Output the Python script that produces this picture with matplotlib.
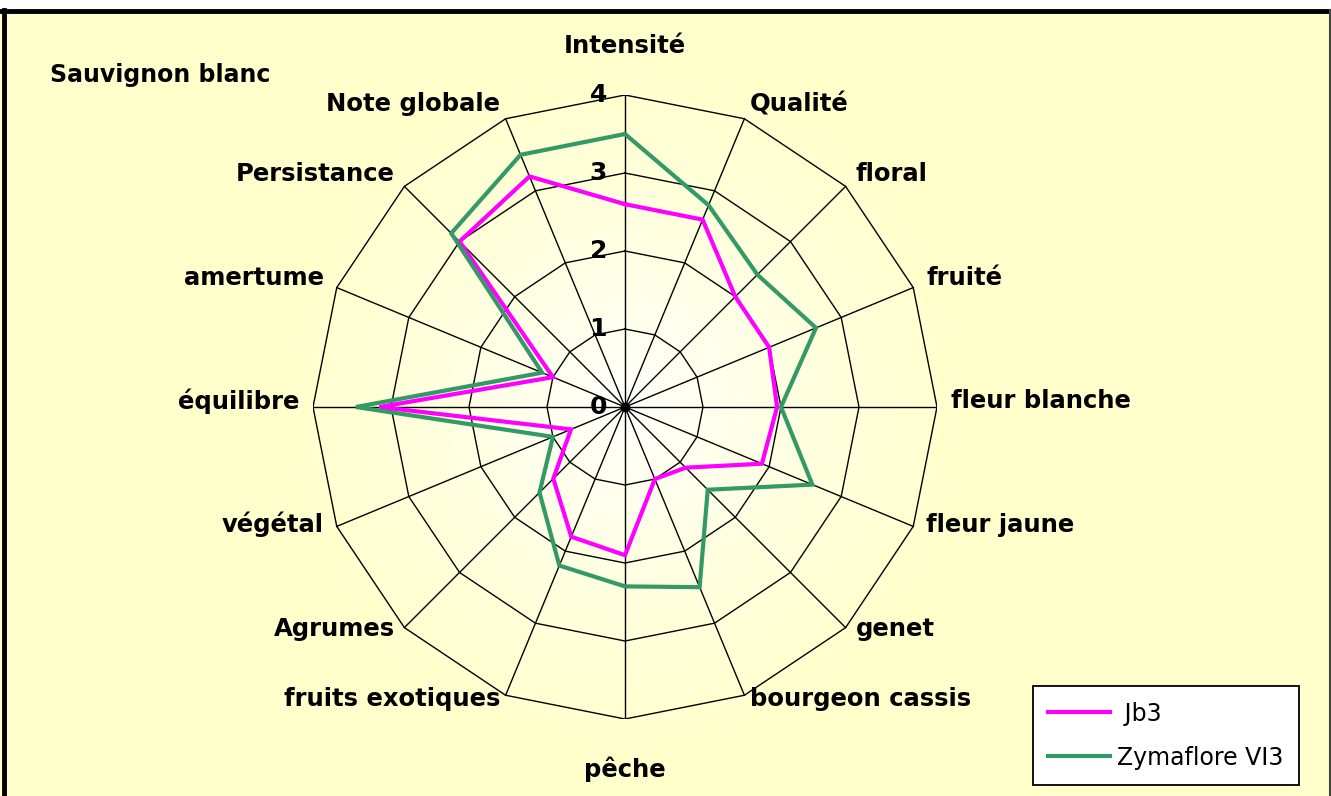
import numpy as np
import matplotlib
matplotlib.use("Agg")
import matplotlib.pyplot as plt
from matplotlib.patches import Rectangle

# -- data --
categories = ["Intensité", "Qualité", "floral", "fruité", "fleur blanche",
              "fleur jaune", "genet", "bourgeon cassis", "pêche",
              "fruits exotiques", "Agrumes", "végétal", "équilibre",
              "amertume", "Persistance", "Note globale"]
jb3 = [2.6, 2.6, 2.0, 2.0, 1.95, 1.9, 1.1, 1.0, 1.9, 1.8, 1.3, 0.75,
       3.15, 1.0, 3.0, 3.2]
zymaflore = [3.5, 2.8, 2.4, 2.65, 2.0, 2.6, 1.5, 2.5, 2.3, 2.2, 1.55, 1.0,
             3.45, 1.15, 3.15, 3.5]
ring_values = [1, 2, 3, 4]
tick_labels = ["0", "1", "2", "3", "4"]
title = "Sauvignon blanc"
series_names = [" Jb3", "Zymaflore VI3"]

W, H = 1331, 796
fig = plt.figure(figsize=(W / 100, H / 100), dpi=100)
fig.patch.set_facecolor("white")

# background with soft radial gradient (white centre -> pale yellow)
bg = fig.add_axes([0, 0, 1, 1])
bg.set_xlim(0, W)
bg.set_ylim(H, 0)
bg.axis("off")
yy, xx = np.mgrid[0:H, 0:W]
d = np.hypot(xx - 625, yy - 407)
t = np.clip(d / 340.0, 0, 1) ** 0.8
white = np.array([1.0, 1.0, 1.0])
yellow = np.array([1.0, 1.0, 0.80])
img = white[None, None, :] * (1 - t[..., None]) + yellow[None, None, :] * t[..., None]
bg.imshow(img, extent=(0, W, H, 0), zorder=0)
bg.add_patch(Rectangle((0, 0), W, 9, color="white", zorder=1))
bg.plot([0, W], [10.5, 10.5], color="black", lw=3.5, zorder=2)
bg.plot([4, 4], [10, H], color="black", lw=3.5, zorder=2)
bg.plot([W - 1.5, W - 1.5], [10, H], color="#444444", lw=1.5, zorder=2)

# radar axes (cartesian so the rings stay straight-edged)
R = 312.0
ax = fig.add_axes([(625 - R) / W, (H - 407 - R) / H, 2 * R / W, 2 * R / H])
ax.set_xlim(-4, 4)
ax.set_ylim(-4, 4)
ax.axis("off")
ax.patch.set_alpha(0)

n = len(categories)
theta = np.arange(n) * 2 * np.pi / n
th_c = np.append(theta, theta[0])

for r in ring_values:
    ax.plot(r * np.sin(th_c), r * np.cos(th_c), color="black", lw=1.0, zorder=2)
for th in theta:
    ax.plot([0, 4 * np.sin(th)], [0, 4 * np.cos(th)], color="black", lw=1.0, zorder=2)
ax.plot([0], [0], "o", color="black", ms=6, zorder=3)

def closed(v):
    v = np.asarray(v, dtype=float)
    return np.append(v, v[0])

l1, = ax.plot(closed(jb3) * np.sin(th_c), closed(jb3) * np.cos(th_c),
              color="#FF00FF", lw=3.0, zorder=4, solid_joinstyle="miter")
l2, = ax.plot(closed(zymaflore) * np.sin(th_c), closed(zymaflore) * np.cos(th_c),
              color="#339966", lw=3.0, zorder=5, solid_joinstyle="miter")

# value labels along the top spoke
for i, lab in enumerate(tick_labels):
    ax.annotate(lab, (0, i), xytext=(-13, 0), textcoords="offset points",
                ha="right", va="center", fontsize=18, fontweight="bold")

# category labels
for th, lab in zip(theta, categories):
    s, c = np.sin(th), np.cos(th)
    if abs(s) < 0.05:
        ha = "center"
        dx, dy = 0, (27 if c > 0 else -27)
        va = "bottom" if c > 0 else "top"
    else:
        ha = "left" if s > 0 else "right"
        va = "center"
        dx, dy = 10 * s, 7 * c + 4
    ax.annotate(lab, (4 * s, 4 * c), xytext=(dx, dy), textcoords="offset points",
                ha=ha, va=va, fontsize=17.5, fontweight="bold", annotation_clip=False)

fig.text(50 / W, 1 - 75 / H, title, ha="left", va="center",
         fontsize=17, fontweight="bold")

leg = fig.legend([l1, l2], series_names, loc="lower left",
                 bbox_to_anchor=(1033 / W, 11 / H), borderaxespad=0,
                 fontsize=17, frameon=True, fancybox=False, edgecolor="black",
                 framealpha=1, handlelength=2.6, handletextpad=0.3,
                 borderpad=0.65, labelspacing=0.85)
leg.get_frame().set_linewidth(1.3)

fig.savefig("out.png", dpi=100)
